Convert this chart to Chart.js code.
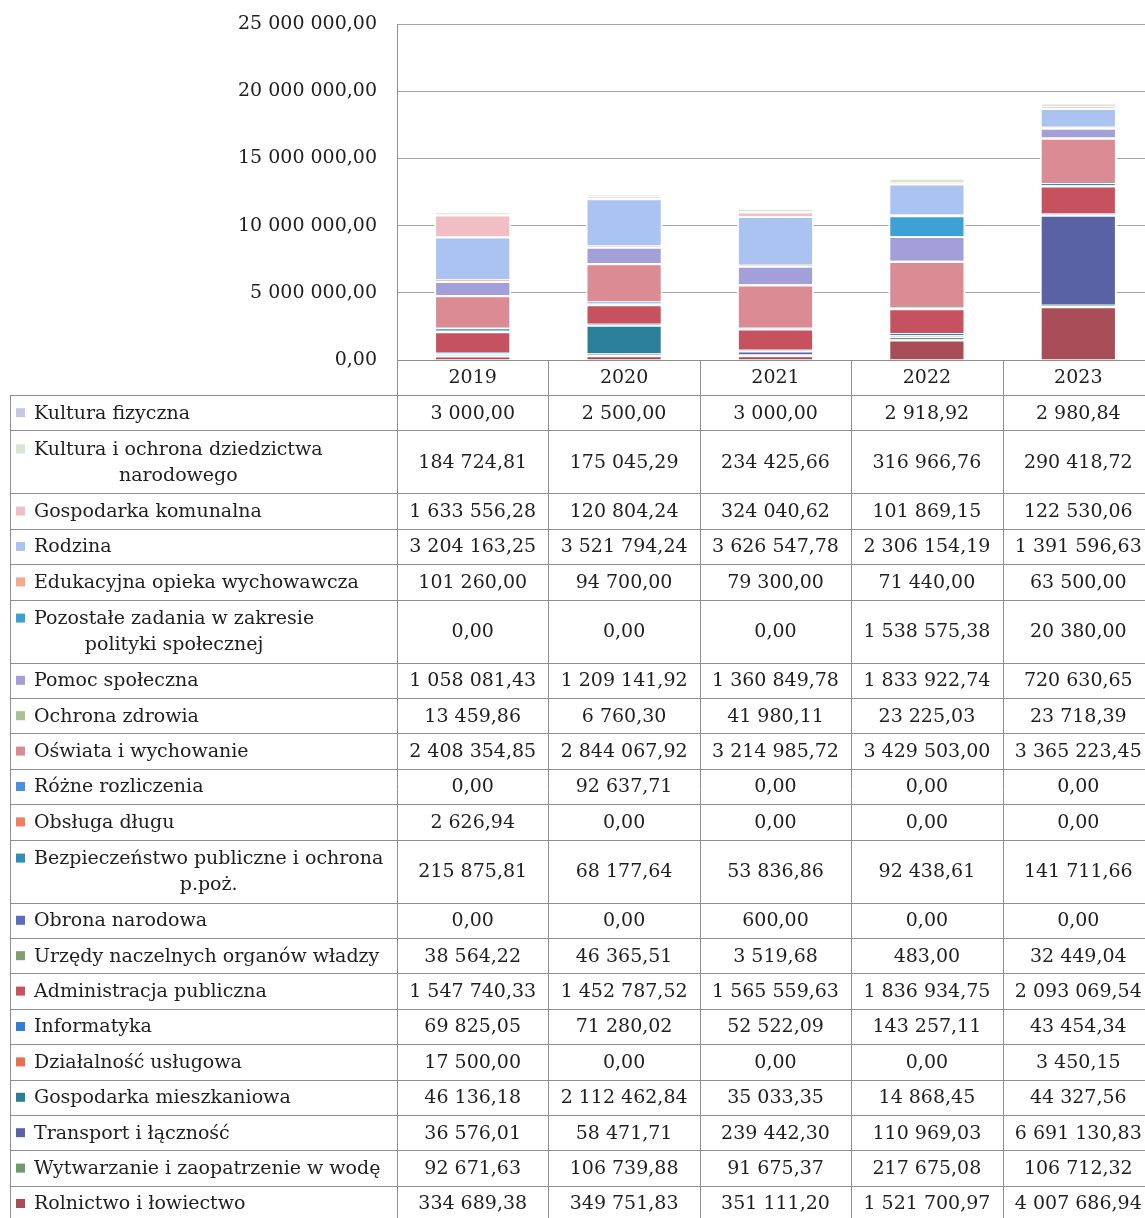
<!DOCTYPE html>
<html>
<head>
<meta charset="utf-8">
<script src="https://cdn.jsdelivr.net/npm/chart.js@4/dist/chart.umd.min.js"></script>
<style>
  html, body { margin: 0; padding: 0; background: #fff; overflow: hidden; }
  canvas { display: block; }
</style>
</head>
<body>
<canvas id="myChart" width="1154" height="1218"></canvas>
<script>
const years = ['2019', '2020', '2021', '2022', '2023'];

// table order (top row first); stacking is the reverse of this
const seriesNames = [
    'Kultura fizyczna',
    'Kultura i ochrona dziedzictwa\nnarodowego',
    'Gospodarka komunalna',
    'Rodzina',
    'Edukacyjna opieka wychowawcza',
    'Pozostałe zadania w zakresie\npolityki społecznej',
    'Pomoc społeczna',
    'Ochrona zdrowia',
    'Oświata i wychowanie',
    'Różne rozliczenia',
    'Obsługa długu',
    'Bezpieczeństwo publiczne i ochrona\np.poż.',
    'Obrona narodowa',
    'Urzędy naczelnych organów władzy',
    'Administracja publiczna',
    'Informatyka',
    'Działalność usługowa',
    'Gospodarka mieszkaniowa',
    'Transport i łączność',
    'Wytwarzanie i zaopatrzenie w wodę',
    'Rolnictwo i łowiectwo'
];

const kulturaFizyczna   = [3000.00, 2500.00, 3000.00, 2918.92, 2980.84];
const kulturaDziedzictwo = [184724.81, 175045.29, 234425.66, 316966.76, 290418.72];
const gospodarkaKomunalna = [1633556.28, 120804.24, 324040.62, 101869.15, 122530.06];
const rodzina           = [3204163.25, 3521794.24, 3626547.78, 2306154.19, 1391596.63];
const edukacyjnaOpieka  = [101260.00, 94700.00, 79300.00, 71440.00, 63500.00];
const politykaSpoleczna = [0, 0, 0, 1538575.38, 20380.00];
const pomocSpoleczna    = [1058081.43, 1209141.92, 1360849.78, 1833922.74, 720630.65];
const ochronaZdrowia    = [13459.86, 6760.30, 41980.11, 23225.03, 23718.39];
const oswiata           = [2408354.85, 2844067.92, 3214985.72, 3429503.00, 3365223.45];
const rozneRozliczenia  = [0, 92637.71, 0, 0, 0];
const obslugaDlugu      = [2626.94, 0, 0, 0, 0];
const bezpieczenstwo    = [215875.81, 68177.64, 53836.86, 92438.61, 141711.66];
const obronaNarodowa    = [0, 0, 600.00, 0, 0];
const urzedy            = [38564.22, 46365.51, 3519.68, 483.00, 32449.04];
const administracja     = [1547740.33, 1452787.52, 1565559.63, 1836934.75, 2093069.54];
const informatyka       = [69825.05, 71280.02, 52522.09, 143257.11, 43454.34];
const dzialalnosc       = [17500.00, 0, 0, 0, 3450.15];
const gospodarkaMieszk  = [46136.18, 2112462.84, 35033.35, 14868.45, 44327.56];
const transport         = [36576.01, 58471.71, 239442.30, 110969.03, 6691130.83];
const wytwarzanie       = [92671.63, 106739.88, 91675.37, 217675.08, 106712.32];
const rolnictwo         = [334689.38, 349751.83, 351111.20, 1521700.97, 4007686.94];

const seriesValues = [
    kulturaFizyczna, kulturaDziedzictwo, gospodarkaKomunalna, rodzina, edukacyjnaOpieka,
    politykaSpoleczna, pomocSpoleczna, ochronaZdrowia, oswiata, rozneRozliczenia,
    obslugaDlugu, bezpieczenstwo, obronaNarodowa, urzedy, administracja,
    informatyka, dzialalnosc, gospodarkaMieszk, transport, wytwarzanie, rolnictwo
];

const seriesColors = [
    '#c6c6e6', '#d6e6cf', '#f1bec5', '#abc3f1', '#f5a88b',
    '#3ea1d6', '#a39fd8', '#a7c394', '#da8b93', '#4d8fe0',
    '#ef7f5f', '#2f8fb4', '#5c6bc0', '#7ea06c', '#c6525f',
    '#2f7fd6', '#e67050', '#2b7f98', '#5a62a6', '#6f9a6a', '#a84c58'
];

const FAMILY = '"DejaVu Serif", "Liberation Serif", serif';
const FONT = '19px ' + FAMILY;
const TEXT = '#1e1e1e';
const LINE = '#8e8e8e';

function fmt(v) {
    const parts = v.toFixed(2).split('.');
    return parts[0].replace(/\B(?=(\d{3})+(?!\d))/g, ' ') + ',' + parts[1];
}

const datasets = seriesNames.map((name, i) => ({
    label: name.replace('\n', ' '),
    data: seriesValues[i],
    backgroundColor: seriesColors[i],
    borderColor: '#ffffff',
    borderWidth: 2,
    barPercentage: 0.51,
    categoryPercentage: 1
})).reverse();

// draws the data table under the plot, columns taken from the x scale
const dataTable = {
    id: 'dataTable',
    afterDraw(chart) {
        const ctx = chart.ctx;
        const xs = chart.scales.x;
        const area = chart.chartArea;
        const colW = (area.right - area.left) / years.length;
        const headTop = area.bottom;
        const headBottom = headTop + 35;
        const tableLeft = 10;
        const rowH = 35.4, extraLine = 27.6, lineGap = 26;

        ctx.save();
        ctx.font = FONT;
        ctx.fillStyle = TEXT;
        ctx.strokeStyle = LINE;
        ctx.lineWidth = 1;
        ctx.textBaseline = 'middle';

        // header row
        ctx.beginPath();
        ctx.moveTo(area.left, headTop + 0.5);
        ctx.lineTo(chart.width, headTop + 0.5);
        ctx.stroke();
        ctx.textAlign = 'center';
        years.forEach((y, i) => {
            ctx.fillText(y, xs.getPixelForValue(i), headTop + 18);
        });

        let y = headBottom;
        const rowTops = [];
        seriesNames.forEach((name, r) => {
            const lines = name.split('\n');
            const h = rowH + (lines.length - 1) * extraLine;
            rowTops.push(y);
            const mid = y + h / 2;
            const firstY = mid - (lines.length - 1) * lineGap / 2;

            // legend key
            ctx.fillStyle = seriesColors[r];
            ctx.fillRect(16, firstY - 4.5, 9, 9);

            ctx.fillStyle = TEXT;
            const w0 = ctx.measureText(lines[0]).width;
            ctx.textAlign = 'left';
            ctx.fillText(lines[0], 34, firstY + 1);
            ctx.textAlign = 'center';
            for (let k = 1; k < lines.length; k++) {
                ctx.fillText(lines[k], 34 + w0 / 2, firstY + k * lineGap + 1);
            }

            seriesValues[r].forEach((v, i) => {
                ctx.fillText(fmt(v), xs.getPixelForValue(i), mid + 1);
            });
            y += h;
        });
        rowTops.push(y);

        ctx.beginPath();
        rowTops.forEach(t => {
            ctx.moveTo(tableLeft, Math.round(t) + 0.5);
            ctx.lineTo(chart.width, Math.round(t) + 0.5);
        });
        ctx.moveTo(tableLeft + 0.5, headBottom);
        ctx.lineTo(tableLeft + 0.5, y);
        for (let i = 0; i <= years.length; i++) {
            const cx = Math.round(area.left + i * colW) + 0.5;
            ctx.moveTo(cx, headTop);
            ctx.lineTo(cx, y);
        }
        ctx.stroke();
        ctx.restore();
    }
};

const config = {
    type: 'bar',
    data: { labels: years, datasets: datasets },
    options: {
        responsive: false,
        animation: false,
        devicePixelRatio: 1,
        layout: { padding: { top: 24, right: 0, bottom: 858, left: 0 } },
        plugins: {
            legend: { display: false },
            tooltip: { enabled: false }
        },
        scales: {
            x: {
                stacked: true,
                display: false
            },
            y: {
                stacked: true,
                min: 0,
                max: 25000000,
                ticks: {
                    stepSize: 5000000,
                    padding: 20,
                    color: TEXT,
                    font: { family: FAMILY, size: 19 },
                    callback: v => fmt(v)
                },
                grid: { color: '#a6a6a6', drawTicks: false },
                border: { color: '#8e8e8e' },
                afterFit(scale) {
                    scale.width = 397;
                    scale.paddingTop = 0;
                    scale.paddingBottom = 0;
                }
            }
        }
    },
    plugins: [dataTable]
};

const myChart = new Chart(document.getElementById('myChart'), config);
</script>
</body>
</html>
